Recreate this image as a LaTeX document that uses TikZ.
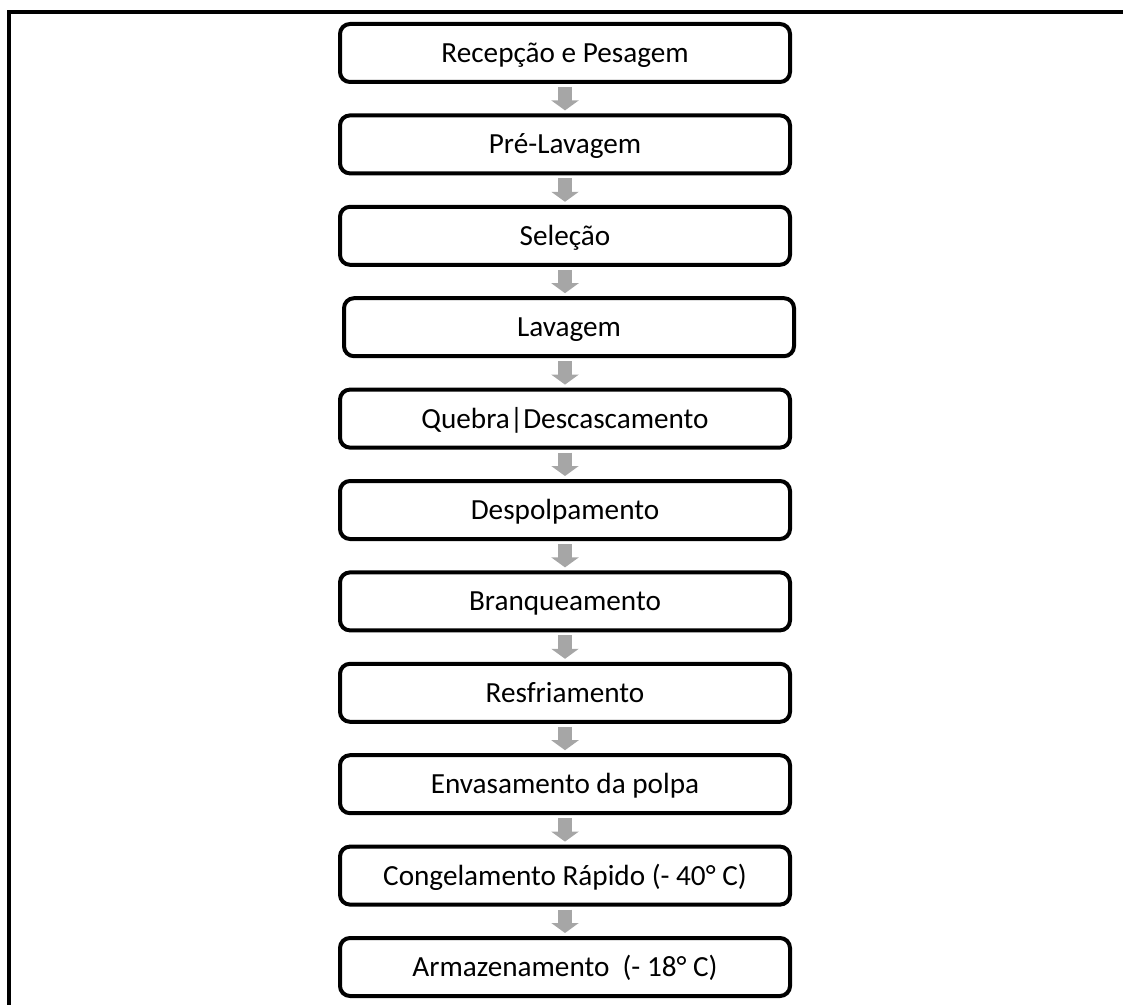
\documentclass[tikz,border=0pt]{standalone}
\usepackage{fontspec}
\setmainfont{Carlito}
\usetikzlibrary{arrows.meta}

\definecolor{arrowgray}{HTML}{A6A6A6}

\tikzset{
    stepbox/.style = {draw, line width = 2pt, rounded corners = 5pt,
        minimum width = 225pt, minimum height = 29pt, inner sep = 0pt,
        text height = 12.5pt, text depth = 3pt,
        font = \fontsize{14.6}{17}\selectfont},
    flow/.style = {arrowgray, line width = 7pt,
        -{Triangle[width = 13.5pt, length = 5pt]},
        shorten < = 1.5pt, shorten > = 1.5pt}
}

\begin{document}
\begin{tikzpicture}[x = 0.5pt, y = -0.5pt]
                \useasboundingbox (0, 0) rectangle (1123, 1005);

                % frame
                \draw[line width = 2pt] (9.3, 1005) -- (9.3, 12) -- (1123, 12);

                \foreach \txt/\x/\i in {{Recepção e Pesagem}/565/0, {Pré-Lavagem}/565/1,
                        {Seleção}/565/2, {Lavagem}/569/3, {Quebra|Descascamento}/565/4,
                        {Despolpamento}/565/5, {Branqueamento}/565/6, {Resfriamento}/565/7,
                        {Envasamento da polpa}/565/8, {Congelamento Rápido (- 40° C)}/565/9,
                        {Armazenamento\ \ (- 18° C)}/565/10} {
                    \node[stepbox] (s\i) at (\x, 53 + 91.4*\i) {\txt};
                }

                \foreach \i [evaluate = \i as \j using int(\i + 1)] in {0, ..., 9} {
                    \draw[flow] (s\i.south -| s0.south) -- (s\j.north -| s0.north);
                }
\end{tikzpicture}
\end{document}
